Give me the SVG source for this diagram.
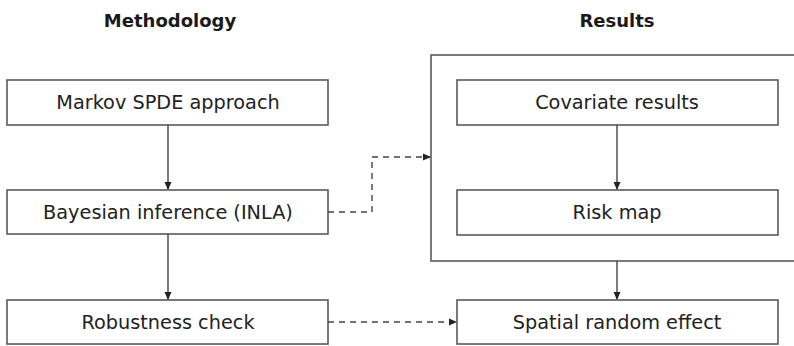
<svg xmlns="http://www.w3.org/2000/svg" width="794" height="346" viewBox="0 0 794 346">
<style>
.box{fill:#fff;stroke:#5a5a5a;stroke-width:1.6}
.lbl{font-family:"DejaVu Sans",sans-serif;font-size:19.3px;fill:#222;text-anchor:middle}
.ttl{font-family:"DejaVu Sans",sans-serif;font-size:18px;font-weight:bold;fill:#1a1a1a;text-anchor:middle}
.ln{fill:none;stroke:#444;stroke-width:1.4}
.dash{stroke-dasharray:6,5}
</style>
<defs>
<marker id="ah" markerWidth="8" markerHeight="8" refX="7" refY="4" orient="auto" markerUnits="userSpaceOnUse">
<path d="M0,0.5 L8,4 L0,7.5 Z" fill="#222"/>
</marker>
</defs>
<text class="ttl" x="170" y="27">Methodology</text>
<text class="ttl" x="617" y="27">Results</text>
<g id="results-group"><rect class="box" x="431" y="55" width="370" height="206"/></g>
<g id="markov"><rect class="box" x="7" y="80" width="321" height="45"/><text class="lbl" x="168" y="109">Markov SPDE approach</text></g>
<g id="bayes"><rect class="box" x="7" y="190" width="321" height="44"/><text class="lbl" x="168" y="219">Bayesian inference (INLA)</text></g>
<g id="robust"><rect class="box" x="7" y="300" width="321" height="44"/><text class="lbl" x="168" y="329">Robustness check</text></g>
<g id="covariate"><rect class="box" x="457" y="80" width="321" height="45"/><text class="lbl" x="617" y="109">Covariate results</text></g>
<g id="riskmap"><rect class="box" x="457" y="190" width="321" height="45"/><text class="lbl" x="617" y="219">Risk map</text></g>
<g id="spatial"><rect class="box" x="457" y="300" width="321" height="44"/><text class="lbl" x="617" y="329">Spatial random effect</text></g>
<g id="connectors">
<line class="ln" x1="168" y1="125" x2="168" y2="189" marker-end="url(#ah)"/>
<line class="ln" x1="168" y1="234" x2="168" y2="299" marker-end="url(#ah)"/>
<line class="ln" x1="617" y1="125" x2="617" y2="189" marker-end="url(#ah)"/>
<line class="ln" x1="617" y1="261" x2="617" y2="299" marker-end="url(#ah)"/>
<path class="ln dash" d="M328,212 H372 V157 H430" marker-end="url(#ah)"/>
<path class="ln dash" d="M328,322 H456" marker-end="url(#ah)"/>
</g>
</svg>
